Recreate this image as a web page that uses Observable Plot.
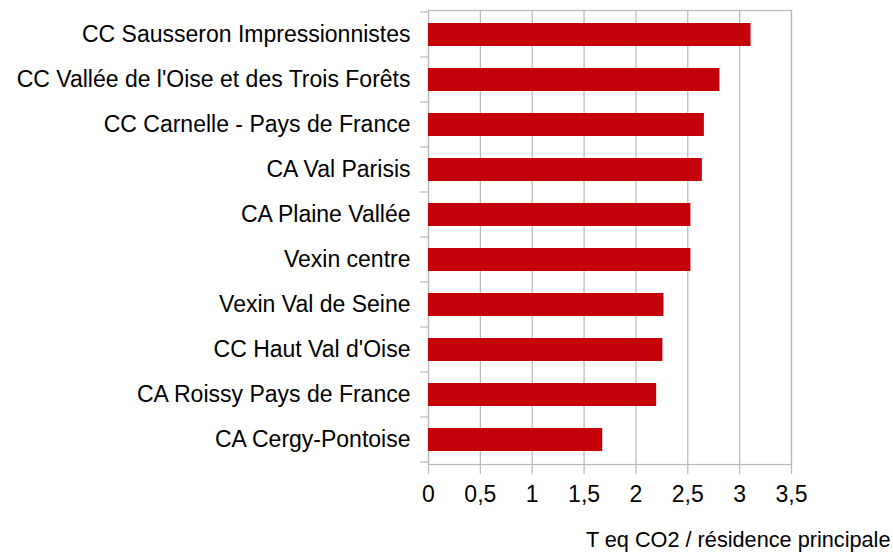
<!DOCTYPE html>
<html>
<head>
<meta charset="utf-8">
<script src="https://cdn.jsdelivr.net/npm/d3@7"></script>
<script src="https://cdn.jsdelivr.net/npm/@observablehq/plot@0.6"></script>
<style>
  html, body { margin: 0; padding: 0; background: #fff; }
  svg { display: block; }
</style>
</head>
<body>
<div id="chart"></div>
<script>
const categories = [
  "CC Sausseron Impressionnistes",
  "CC Vallée de l'Oise et des Trois Forêts",
  "CC Carnelle - Pays de France",
  "CA Val Parisis",
  "CA Plaine Vallée",
  "Vexin centre",
  "Vexin Val de Seine",
  "CC Haut Val d'Oise",
  "CA Roissy Pays de France",
  "CA Cergy-Pontoise"
];
const values = [3.11, 2.81, 2.66, 2.64, 2.53, 2.53, 2.27, 2.26, 2.20, 1.68];
const xTicks = [0, 0.5, 1, 1.5, 2, 2.5, 3, 3.5];
const xLabel = "T eq CO2 / résidence principale";

const data = categories.map((c, i) => ({category: c, value: values[i]}));

const W = 893, H = 552;
const mL = 428, mR = 102, mT = 10, mB = 88;
const gridColor = "#b8b8b8";
const fmt = d => String(d).replace(".", ",");

// Ticks on the left axis at the category separators, placed with the y scale
function boundaryTicks(index, scales, values, dims) {
  const y = scales.y;
  const bw = y.step();
  const g = d3.create("svg:g");
  const x0 = dims.marginLeft;
  const ys = categories.map(c => y(c) - (bw - y.bandwidth()) / 2);
  ys.push(ys[ys.length - 1] + bw);
  for (const yy of ys) {
    g.append("line")
      .attr("x1", x0 - 8).attr("x2", x0)
      .attr("y1", yy).attr("y2", yy)
      .attr("stroke", gridColor).attr("stroke-width", 1.2);
  }
  return g.node();
}

const chart = Plot.plot({
  width: W,
  height: H,
  marginLeft: mL,
  marginRight: mR,
  marginTop: mT,
  marginBottom: mB,
  style: {fontFamily: "'Liberation Sans', Arial, sans-serif", color: "#000", background: "#fff"},
  x: {domain: [0, 3.5], ticks: xTicks},
  y: {domain: categories, paddingInner: 0.5, paddingOuter: 0.25, align: 0.5},
  marks: [
    Plot.gridX(xTicks, {stroke: gridColor, strokeOpacity: 1, strokeWidth: 1.2}),
    Plot.frame({stroke: gridColor, strokeWidth: 1.2}),
    Plot.barX(data, {x: "value", y: "category", fill: "#c4000b"}),
    boundaryTicks,
    Plot.axisX(xTicks, {tickFormat: fmt, tickSize: 10, tickPadding: 11, fontSize: 23, stroke: gridColor, strokeWidth: 1.2, label: null, fill: "#000"}),
    Plot.axisY({tickSize: 0, tickPadding: 18, fontSize: 23, label: null, fill: "#000"}),
    Plot.text([xLabel], {frameAnchor: "bottom-right", text: d => d, dx: 99, dy: 82, fontSize: 21.7, textAnchor: "end", fill: "#000"})
  ]
});

document.getElementById("chart").appendChild(chart);
</script>
</body>
</html>
